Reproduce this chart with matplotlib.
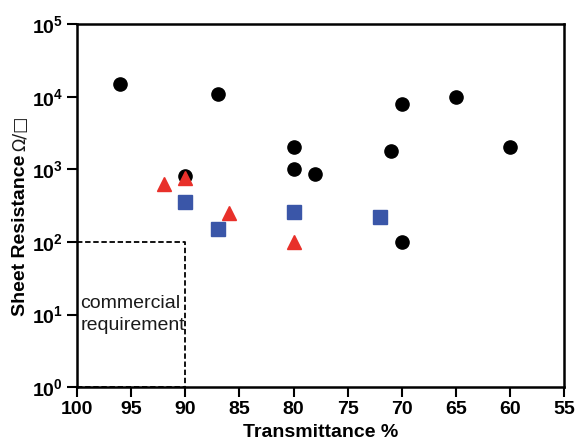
import matplotlib
matplotlib.use('Agg')
import matplotlib.pyplot as plt
import numpy as np

plt.rcParams['font.family'] = ['Liberation Sans', 'DejaVu Sans']
plt.rcParams['mathtext.fontset'] = 'custom'
plt.rcParams['mathtext.rm'] = 'Liberation Sans:bold'
plt.rcParams['mathtext.bf'] = 'Liberation Sans:bold'

# black circles
circ_x = [96, 87, 90, 80, 80, 78, 71, 70, 65, 60, 70]
circ_y = [15000, 11000, 800, 2000, 1000, 850, 1800, 8000, 10000, 2000, 100]
# red triangles
tri_x = [92, 90, 86, 80]
tri_y = [620, 750, 250, 100]
# blue squares
sq_x = [90, 87, 80, 72]
sq_y = [350, 150, 260, 220]

x_ticks = [100, 95, 90, 85, 80, 75, 70, 65, 60, 55]
y_exps = [0, 1, 2, 3, 4, 5]

fig = plt.figure(figsize=(5.76, 4.46), dpi=100)
ax = fig.add_axes([0.134, 0.132, 0.845, 0.814])

ax.plot(circ_x, circ_y, 'o', color='black', markersize=9.5, linestyle='none', zorder=3)
ax.plot(tri_x, tri_y, '^', color='#e8302a', markersize=9.5, linestyle='none', zorder=4)
ax.plot(sq_x, sq_y, 's', color='#3a56a8', markersize=9.5, linestyle='none', zorder=4)

# commercial requirement box
ax.plot([100, 90, 90], [100, 100, 1], color='black', linewidth=1.3, dashes=(3, 1.5), zorder=2)
ax.plot([100, 90], [1, 1], color='black', linewidth=1.3, dashes=(3, 1.5), zorder=2)
ax.text(99.7, 10, 'commercial\nrequirement', fontsize=14, ha='left', va='center',
        linespacing=1.45, color='#1a1a1a')

ax.set_yscale('log')
ax.set_xlim(100, 55)
ax.set_ylim(1, 1e5)
ax.set_xticks(x_ticks)
ax.set_xticklabels([str(t) for t in x_ticks], fontsize=14, fontweight='bold')
ax.set_yticks([10.0 ** e for e in y_exps])
ax.set_yticklabels(['$\\mathbf{10^{%d}}$' % e for e in y_exps], fontsize=14)
ax.minorticks_off()
ax.tick_params(direction='out', length=7, width=1.5, pad=3)

for s in ax.spines.values():
    s.set_linewidth(1.8)

ax.set_xlabel('Transmittance %', fontsize=14, fontweight='bold', labelpad=4)

# y label in two parts: bold words, then lighter unit symbols
lab = fig.text(0.035, 1 - 316 / 446, 'Sheet Resistance', rotation=90, ha='center',
               va='bottom', fontsize=14, fontweight='bold')
fig.canvas.draw()
bb = lab.get_window_extent()
fig.text(0.035, bb.y1 / fig.bbox.height + 0.008, 'Ω/□', rotation=90, ha='center',
         va='bottom', fontsize=12.5, family='DejaVu Sans', color='#1a1a1a')

fig.savefig('out.png', dpi=100)
